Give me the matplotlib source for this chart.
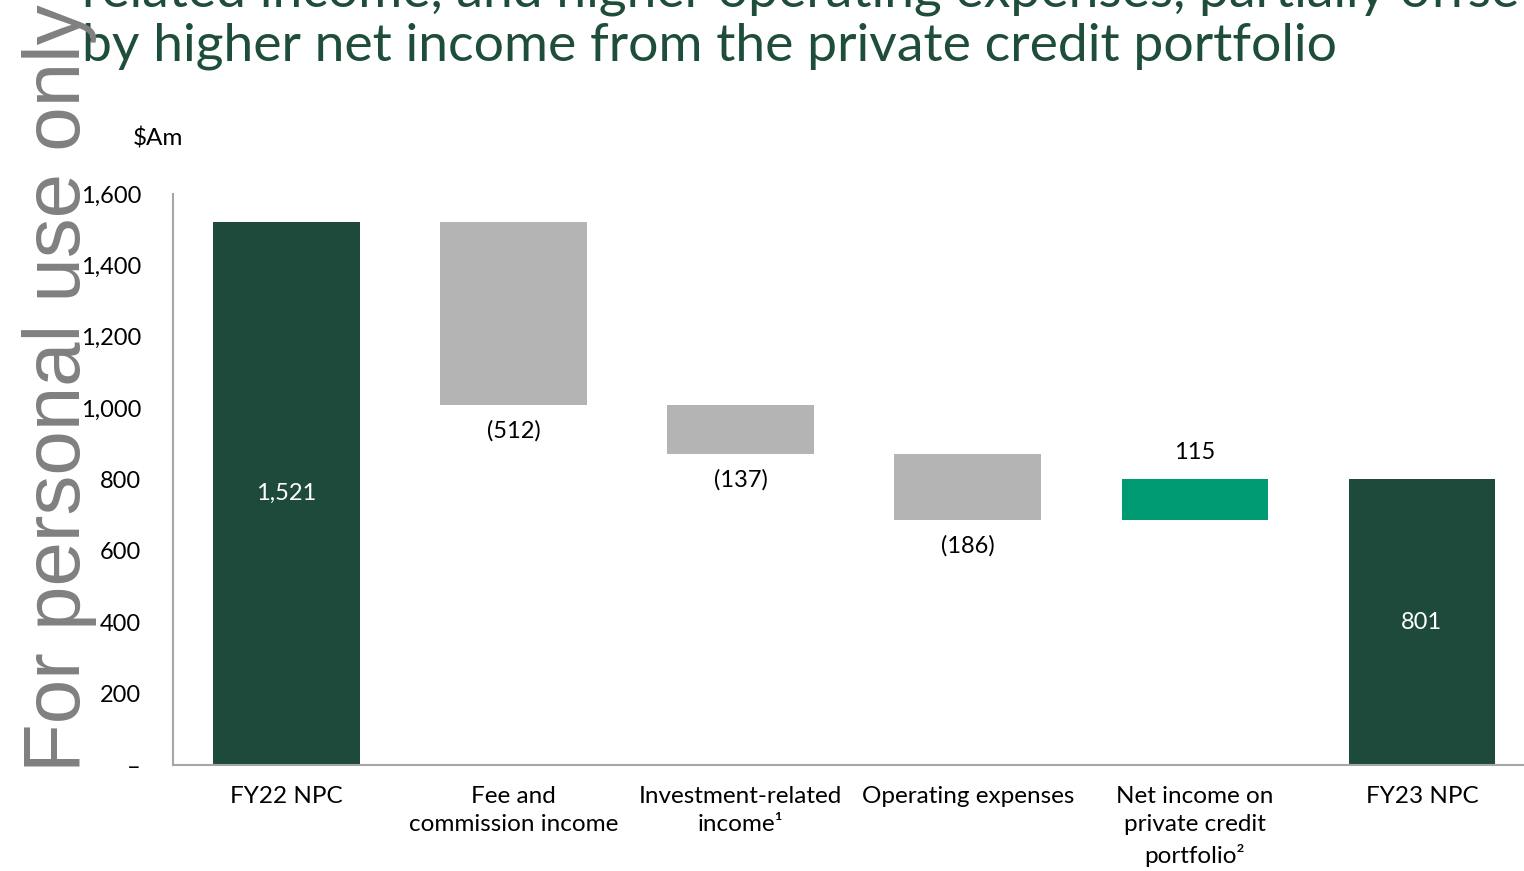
import matplotlib
matplotlib.use("Agg")
import matplotlib.pyplot as plt
import numpy as np

# waterfall data ($Am)
categories = ["FY22 NPC", "Fee and\ncommission income", "Investment-related\nincome\u00b9",
              "Operating expenses", "Net income on\nprivate credit\nportfolio\u00b2", "FY23 NPC"]
values = [1521, -512, -137, -186, 115, 801]
kinds = ["total", "delta", "delta", "delta", "delta", "total"]
value_labels = ["1,521", "(512)", "(137)", "(186)", "115", "801"]
yticks = [0, 200, 400, 600, 800, 1000, 1200, 1400, 1600]
ytick_labels = ["\u2013", "200", "400", "600", "800", "1,000", "1,200", "1,400", "1,600"]

DARK = "#1e4a3c"
GREY = "#b4b4b4"
TEAL = "#009a73"
TITLE_COL = "#1e4d3a"

plt.rcParams["font.family"] = ["Lato", "DejaVu Sans"]

fig = plt.figure(figsize=(15.24, 8.71), dpi=100)
ax = fig.add_axes([173 / 1524, 1 - 765 / 871, 1 - 173 / 1524, (765 - 194) / 871])

x = np.arange(len(values))
running = 0
for i, (v, k) in enumerate(zip(values, kinds)):
    if k == "total":
        running = v
        ax.bar(i, v, width=0.645, color=DARK)
        ax.text(i, v / 2, value_labels[i], ha="center", va="center", color="white", fontsize=17)
    else:
        start = running
        running = running + v
        bottom = min(start, running)
        col = GREY if v < 0 else TEAL
        ax.bar(i, abs(v), bottom=bottom, width=0.645, color=col)
        if v < 0:
            ax.text(i, bottom - 72, value_labels[i], ha="center", va="center", color="black", fontsize=17)
        else:
            ax.text(i, running + 75, value_labels[i], ha="center", va="center", color="black", fontsize=17)

ax.set_xlim(-0.5, 5.45)
ax.set_ylim(0, 1600)
ax.set_yticks(yticks)
ax.set_yticklabels(ytick_labels, fontsize=17)
ax.set_xticks(x)
ax.set_xticklabels(categories, fontsize=17.5, linespacing=1.45, va="top")
ax.tick_params(axis="both", length=0)
ax.tick_params(axis="y", pad=23)
ax.tick_params(axis="x", pad=15)
for s in ["top", "right"]:
    ax.spines[s].set_visible(False)
for s in ["left", "bottom"]:
    ax.spines[s].set_color("#a6a6a6")
    ax.spines[s].set_linewidth(1.5)

fig.text(133 / 1524, 1 - 138 / 871, "$Am", fontsize=17.5, ha="left", va="center")

# title (top line cut off by the page)
fig.text(82 / 1524, 1 - 7 / 871, "related income, and higher operating expenses, partially offset",
         fontsize=38.5, color=TITLE_COL, ha="left", va="baseline")
fig.text(82 / 1524, 1 - 60 / 871, "by higher net income from the private credit portfolio",
         fontsize=38.5, color=TITLE_COL, ha="left", va="baseline")

# watermark
fig.text(60 / 1524, 1 - 772 / 871, "For personal use only", rotation=90, fontsize=57.5,
         color="#808080", family="Liberation Sans", ha="center", va="bottom")

fig.savefig("out.png", dpi=100)
